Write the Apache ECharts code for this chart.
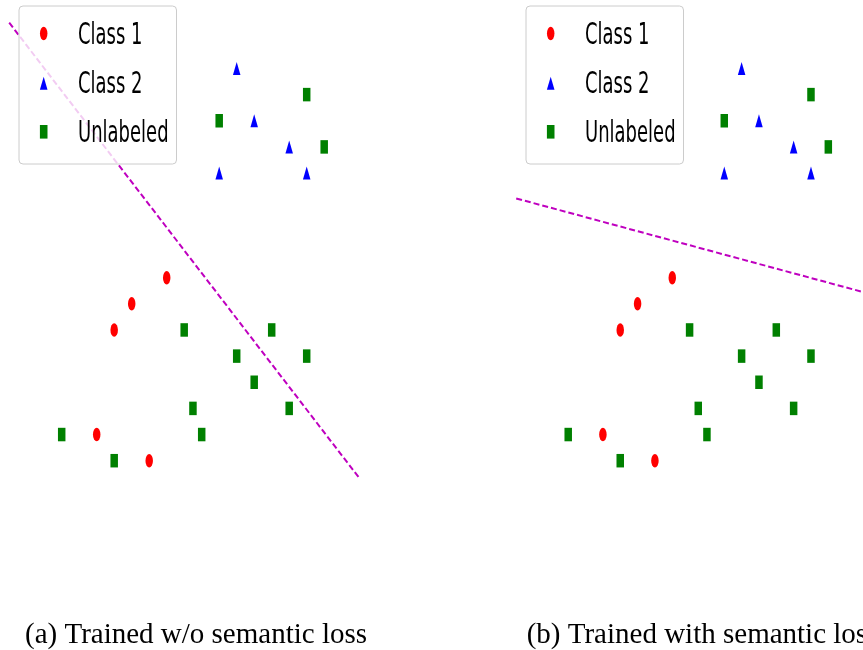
<!DOCTYPE html>
<html>
<head>
<meta charset="utf-8">
<script src="https://cdn.jsdelivr.net/npm/echarts@6/dist/echarts.min.js"></script>
<style>html,body{margin:0;padding:0;background:#fff;}#main{width:863px;height:650px;}</style>
</head>
<body>
<div id="main"></div>
<script>
// ---- data ----
const class1X = [6, 4, 3, 2, 5];
const class1Y = [7, 6, 5, 1, 0];
const class2X = [10, 11, 9, 13, 14];
const class2Y = [15, 13, 11, 12, 11];
const unlabeledX = [9, 14, 15, 7, 12, 10, 14, 11, 7.5, 13, 8, 0, 3];
const unlabeledY = [13, 14, 12, 5, 5, 4, 4, 3, 2, 2, 1, 1, 0];
const boundaryX = [-3, 17];
const boundaryAY = [16.75, -0.66];   // w/o semantic loss
const boundaryBY = [10.03, 6.45];    // with semantic loss
const legendNames = ['Class 1', 'Class 2', 'Unlabeled'];
const captions = ['(a) Trained w/o semantic loss', '(b) Trained with semantic loss'];

const zip = (xs, ys) => xs.map((x, i) => [x, ys[i]]);
const RED = '#ff0000', BLUE = '#0000ff', GREEN = '#008000', MAG = '#bf00bf';

const chart = echarts.init(document.getElementById('main'), null, {renderer: 'canvas'});

const panelLeft = [9.2, 516.2];
const grids = panelLeft.map(l => ({left: l, top: 22.7, width: 350, height: 456.3}));
const xAxes = [0, 1].map(i => ({type: 'value', gridIndex: i, min: -3, max: 17, show: false}));
const yAxes = [0, 1].map(i => ({type: 'value', gridIndex: i, min: -0.7, max: 16.75, show: false}));

const series = [];
[boundaryAY, boundaryBY].forEach((by, i) => {
  series.push({type: 'scatter', name: legendNames[0], xAxisIndex: i, yAxisIndex: i,
    data: zip(class1X, class1Y), symbol: 'circle', symbolSize: [7.5, 13.5],
    itemStyle: {color: RED, opacity: 1}, z: 3, silent: true});
  series.push({type: 'scatter', name: legendNames[1], xAxisIndex: i, yAxisIndex: i,
    data: zip(class2X, class2Y), symbol: 'triangle', symbolSize: [7.5, 13],
    itemStyle: {color: BLUE, opacity: 1}, z: 3, silent: true});
  series.push({type: 'scatter', name: legendNames[2], xAxisIndex: i, yAxisIndex: i,
    data: zip(unlabeledX, unlabeledY), symbol: 'rect', symbolSize: [7.5, 13.5],
    itemStyle: {color: GREEN, opacity: 1}, z: 3, silent: true});
  series.push({type: 'line', name: 'boundary', xAxisIndex: i, yAxisIndex: i,
    data: zip(boundaryX, by), symbol: 'none',
    lineStyle: {color: MAG, width: 2, type: [6, 3]}, z: 2, silent: true});
});

// legend boxes (drawn as graphics to mimic the squeezed figure)
const graphics = [];
const rowY = [34.5, 83.2, 131.8];
panelLeft.forEach((l, i) => {
  const off = l - 9.2;
  const Z = 100;
  graphics.push({type: 'rect', z: Z, shape: {x: 19 + off, y: 6, width: 157.5, height: 158, r: 4},
    style: {fill: 'rgba(255,255,255,0.8)', stroke: '#cccccc', lineWidth: 1}});
  graphics.push({type: 'circle', z: Z + 1, x: 43.7 + off, y: rowY[0] - 1, scaleX: 0.55,
    shape: {cx: 0, cy: 0, r: 6.8}, style: {fill: RED}});
  graphics.push({type: 'polygon', z: Z + 1, x: 43.7 + off, y: rowY[1],
    shape: {points: [[0, -6.5], [3.8, 6.5], [-3.8, 6.5]]}, style: {fill: BLUE}});
  graphics.push({type: 'rect', z: Z + 1, x: 43.7 + off, y: rowY[2],
    shape: {x: -3.8, y: -6.8, width: 7.6, height: 13.6}, style: {fill: GREEN}});
  legendNames.forEach((n, k) => {
    graphics.push({type: 'text', z: Z + 1, x: 78 + off, y: rowY[k] + 2, scaleX: 0.6,
      style: {text: n, x: 0, y: 0, fill: '#000', font: '30px "DejaVu Sans"',
        textAlign: 'left', textVerticalAlign: 'middle', verticalAlign: 'middle'}});
  });
  graphics.push({type: 'text', z: Z, x: [25, 526.7][i], y: 635,
    style: {text: captions[i], fill: '#000', font: '29px "Liberation Serif"',
      textAlign: 'left', verticalAlign: 'middle', textVerticalAlign: 'middle'}});
});

chart.setOption({
  animation: false,
  backgroundColor: '#ffffff',
  grid: grids,
  xAxis: xAxes,
  yAxis: yAxes,
  series,
  graphic: graphics
});
</script>
</body>
</html>
